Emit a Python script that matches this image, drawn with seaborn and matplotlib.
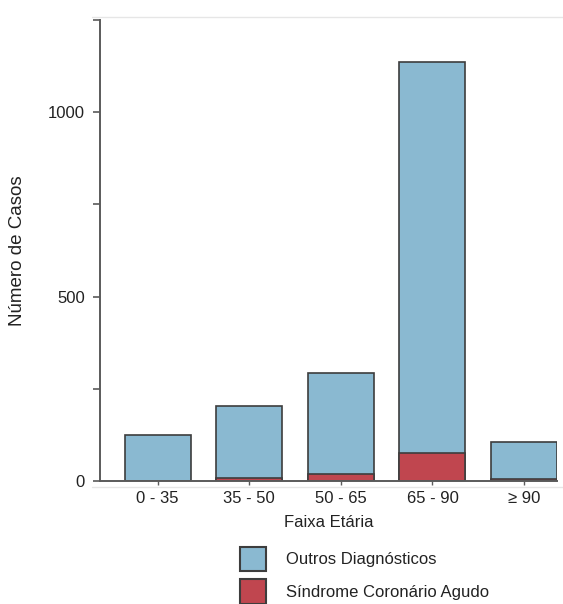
import matplotlib
matplotlib.use("Agg")
import matplotlib.pyplot as plt
import seaborn as sns
import pandas as pd
from matplotlib.patches import Patch
from matplotlib.lines import Line2D

categories = ["0 - 35", "35 - 50", "50 - 65", "65 - 90", "≥ 90"]
outros = [125, 197, 274, 1060, 101]
sca = [0, 7, 19, 76, 5]
series_labels = ["Outros Diagnósticos", "Síndrome Coronário Agudo"]
yticks = [0, 250, 500, 750, 1000, 1250]
ytick_labels = ["0", "", "500", "", "1000", ""]

total = [a + b for a, b in zip(outros, sca)]
df = pd.DataFrame({"cat": categories, "total": total, "sca": sca})

sns.set_theme(style="white")
plt.rcParams["font.family"] = ["Liberation Sans", "DejaVu Sans"]

blue = "#8AB9D1"
red = "#C0464F"
edge = "#3d3d3d"
spine = "#5a5a5a"

fig = plt.figure(figsize=(5.63, 6.04), dpi=100)
ax = fig.add_axes([100 / 563, 1 - 481 / 604, (557 - 100) / 563, (481 - 20) / 604])

sns.barplot(data=df, x="cat", y="total", color=blue, saturation=1, width=0.72,
            edgecolor=edge, linewidth=1.2, ax=ax)
sns.barplot(data=df, x="cat", y="sca", color=red, saturation=1, width=0.72,
            edgecolor=edge, linewidth=1.2, ax=ax)

ax.set_xlim(-0.63, 4.36)
ax.set_ylim(0, 1250)
ax.set_yticks(yticks)
ax.set_yticklabels(ytick_labels)
ax.tick_params(axis="y", direction="out", length=5, width=1.2, color=spine,
               labelsize=12, pad=6, left=True, labelcolor="#222222")
ax.tick_params(axis="x", direction="out", length=3, width=1, color=spine,
               labelsize=12, pad=4, bottom=True, labelcolor="#222222")
for s in ["top", "right"]:
    ax.spines[s].set_visible(False)
for s in ["left", "bottom"]:
    ax.spines[s].set_color(spine)
    ax.spines[s].set_linewidth(1.4)

ax.set_xlabel("Faixa Etária", fontsize=12, color="#222222", labelpad=7)
ax.set_ylabel("Número de Casos", fontsize=13.5, color="#222222")
ax.yaxis.set_label_coords(-0.162, 0.5)

# faint frame lines
fig.add_artist(Line2D([92 / 563, 1], [1 - 17 / 604] * 2, color="#e6e6e6", lw=1))
fig.add_artist(Line2D([92 / 563, 1], [1 - 487 / 604] * 2, color="#e6e6e6", lw=1))

handles = [Patch(facecolor=blue, edgecolor=edge, linewidth=1.5),
           Patch(facecolor=red, edgecolor=edge, linewidth=1.5)]
fig.legend(handles, series_labels, loc="upper left",
           bbox_to_anchor=(240 / 563, 1 - 547 / 604), frameon=False,
           fontsize=12, handlelength=1.56, handleheight=1.85,
           labelspacing=0.5, handletextpad=1.2, borderpad=0, borderaxespad=0,
           labelcolor="#222222")

fig.savefig("out.png", dpi=100)
